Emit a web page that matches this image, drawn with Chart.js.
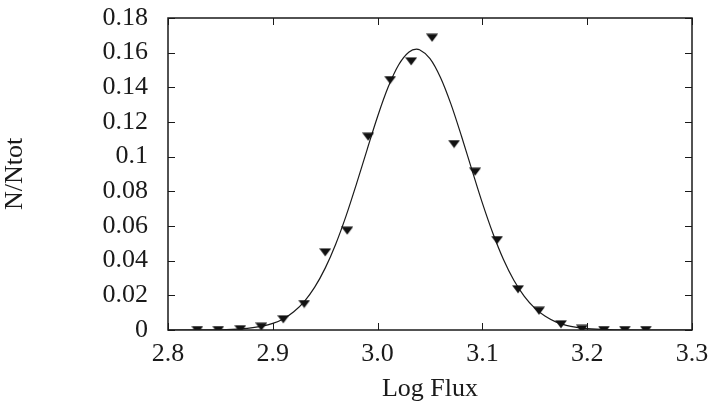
<!DOCTYPE html>
<html>
<head>
<meta charset="utf-8">
<script src="https://cdn.jsdelivr.net/npm/chart.js@4"></script>
<style>
  html, body { margin: 0; padding: 0; background: #fff; }
  #chart { display: block; }
</style>
</head>
<body>
<canvas id="chart" width="710" height="406"></canvas>
<script>
// Measured histogram (triangles)
const logFlux = [2.828, 2.848, 2.869, 2.889, 2.910, 2.930, 2.950, 2.971, 2.991, 3.012, 3.032,
                 3.052, 3.073, 3.093, 3.114, 3.134, 3.154, 3.175, 3.195, 3.216, 3.236, 3.256];
const fraction = [0.0, 0.0, 0.0005, 0.0019, 0.0062, 0.0150, 0.0448, 0.0573, 0.1115, 0.1442, 0.1550,
                  0.1686, 0.1073, 0.0913, 0.0519, 0.0235, 0.0111, 0.0033, 0.0006, 0.0, 0.0, 0.0];

// Fitted curve
const fitX = [2.80, 2.85, 2.87, 2.89, 2.90, 2.91, 2.92, 2.93, 2.94, 2.95, 2.96, 2.97, 2.98, 2.99,
              3.00, 3.01, 3.02, 3.03, 3.037, 3.04, 3.05, 3.06, 3.07, 3.08, 3.09, 3.10, 3.11,
              3.12, 3.13, 3.14, 3.15, 3.16, 3.17, 3.18, 3.19, 3.20, 3.22, 3.25, 3.30];
const fitY = [0.0, 0.0001, 0.0006, 0.0022, 0.0038, 0.0064, 0.0105, 0.0164, 0.0247, 0.0357, 0.0495,
              0.0660, 0.0846, 0.1041, 0.1232, 0.1400, 0.1529, 0.1604, 0.1620, 0.1617, 0.1566,
              0.1457, 0.1303, 0.1119, 0.0924, 0.0732, 0.0558, 0.0408, 0.0287, 0.0194, 0.0126,
              0.0079, 0.0047, 0.0027, 0.0015, 0.0008, 0.0002, 0.0, 0.0];

// Axis ticks
const xTickValues = [2.8, 2.9, 3.0, 3.1, 3.2, 3.3];
const xTickLabels = ['2.8', '2.9', '3.0', '3.1', '3.2', '3.3'];
const yTickValues = [0, 0.02, 0.04, 0.06, 0.08, 0.1, 0.12, 0.14, 0.16, 0.18];
const yTickLabels = ['0', '0.02', '0.04', '0.06', '0.08', '0.1', '0.12', '0.14', '0.16', '0.18'];

const ink = '#1a1a1a';
const serif = "'Liberation Serif', 'Times New Roman', serif";

// flattened downward triangle used as point marker
function makeTriangle() {
    const c = document.createElement('canvas');
    c.width = 12;
    c.height = 9;
    const g = c.getContext('2d');
    g.fillStyle = '#111';
    g.beginPath();
    g.moveTo(0, 0.5);
    g.lineTo(12, 0.5);
    g.lineTo(6, 8.5);
    g.closePath();
    g.fill();
    return c;
}

// frame and inward tick marks on all four sides
const frameTicks = {
    id: 'frameTicks',
    afterDatasetsDraw(chart) {
        const { ctx, chartArea: a, scales } = chart;
        const len = 7;
        ctx.save();
        ctx.strokeStyle = ink;
        ctx.lineWidth = 1;
        ctx.beginPath();
        xTickValues.forEach(v => {
            const px = Math.round(scales.x.getPixelForValue(v)) + 0.5;
            ctx.moveTo(px, a.bottom); ctx.lineTo(px, a.bottom - len);
            ctx.moveTo(px, a.top); ctx.lineTo(px, a.top + len);
        });
        yTickValues.forEach(v => {
            const py = Math.round(scales.y.getPixelForValue(v)) + 0.5;
            ctx.moveTo(a.left, py); ctx.lineTo(a.left + len, py);
            ctx.moveTo(a.right, py); ctx.lineTo(a.right - len, py);
        });
        ctx.stroke();
        ctx.lineWidth = 1.5;
        ctx.strokeRect(a.left, a.top, a.right - a.left, a.bottom - a.top);
        ctx.restore();
    }
};

new Chart(document.getElementById('chart'), {
    type: 'line',
    data: {
        datasets: [
            {
                label: 'data',
                data: logFlux.map((x, i) => ({ x: x, y: fraction[i] })),
                showLine: false,
                pointStyle: makeTriangle(),
                pointRadius: 6,
                order: 1
            },
            {
                label: 'fit',
                data: fitX.map((x, i) => ({ x: x, y: fitY[i] })),
                borderColor: ink,
                borderWidth: 1.2,
                pointRadius: 0,
                cubicInterpolationMode: 'monotone',
                fill: false,
                order: 2
            }
        ]
    },
    options: {
        responsive: false,
        animation: false,
        layout: { padding: { top: 18, right: 18, left: 0, bottom: 0 } },
        plugins: {
            legend: { display: false },
            tooltip: { enabled: false }
        },
        scales: {
            x: {
                type: 'linear',
                min: 2.8,
                max: 3.3,
                afterBuildTicks: s => { s.ticks = xTickValues.map(v => ({ value: v })); },
                afterFit: s => { s.height = 76; s.paddingLeft = 0; s.paddingRight = 0; },
                grid: { display: false, drawTicks: false },
                border: { display: false },
                ticks: {
                    padding: 9,
                    autoSkip: false,
                    color: ink,
                    font: { family: serif, size: 26 },
                    maxRotation: 0,
                    callback: (v, i) => xTickLabels[i]
                },
                title: {
                    display: true,
                    text: 'Log Flux',
                    color: ink,
                    font: { family: serif, size: 26 },
                    padding: { top: 0, bottom: 1 }
                }
            },
            y: {
                min: 0,
                max: 0.18,
                afterBuildTicks: s => { s.ticks = yTickValues.map(v => ({ value: v })); },
                afterFit: s => { s.width = 168; s.paddingTop = 0; s.paddingBottom = 0; },
                grid: { display: false, drawTicks: false },
                border: { display: false },
                ticks: {
                    padding: 20,
                    autoSkip: false,
                    color: ink,
                    font: { family: serif, size: 26 },
                    callback: (v, i) => yTickLabels[i]
                },
                title: {
                    display: true,
                    text: 'N/Ntot',
                    color: ink,
                    font: { family: serif, size: 26 },
                    padding: { top: 0, bottom: 2 }
                }
            }
        }
    },
    plugins: [frameTicks]
});
</script>
</body>
</html>
